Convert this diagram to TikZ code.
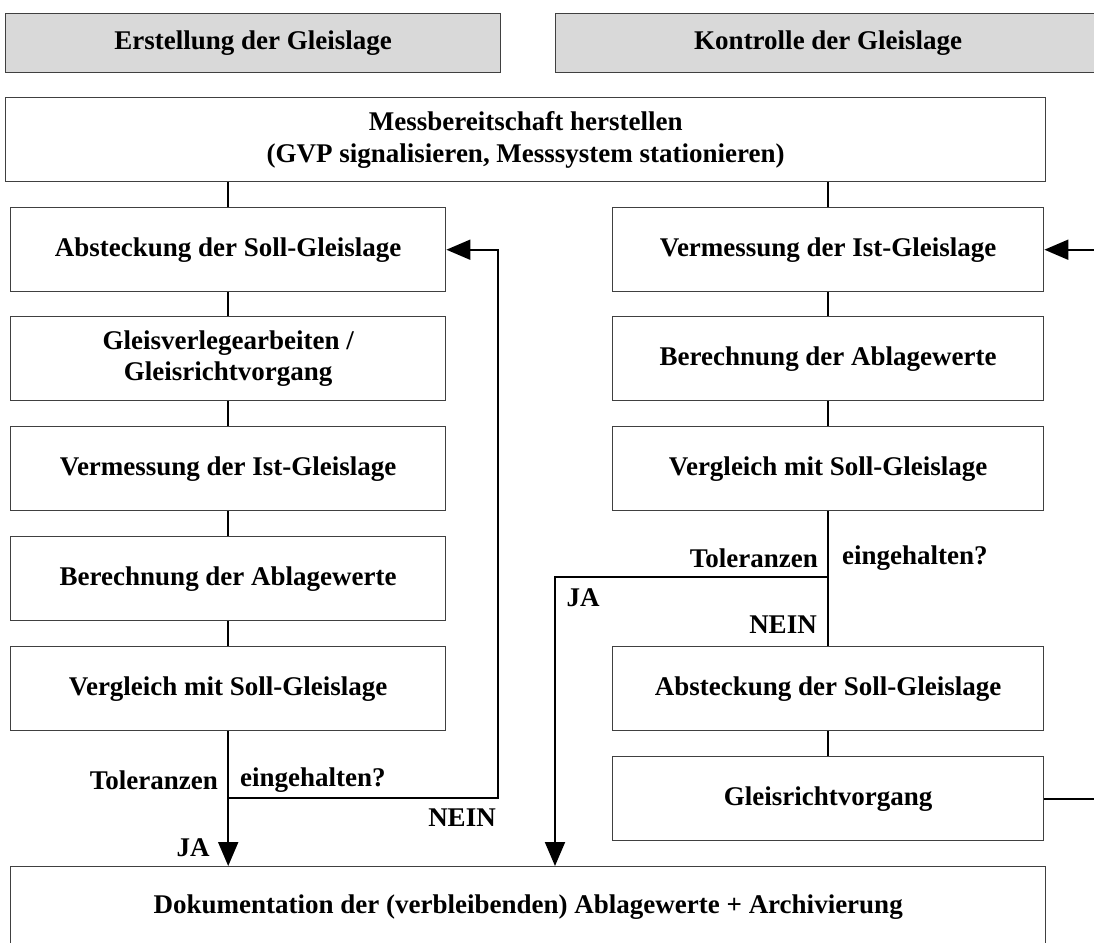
\documentclass[tikz,border=0pt]{standalone}
\usepackage{fontspec}
\setmainfont{Liberation Serif}
\usetikzlibrary{arrows.meta}
\begin{document}
\begin{tikzpicture}[x=1pt,y=-1pt,
  txt/.style={font=\fontsize{27}{31}\selectfont\bfseries},
  box/.style={txt,draw=black!75,line width=1.4pt,fill=white,align=center,inner sep=0pt,anchor=north west,minimum height=84pt},
  head/.style={box,fill=black!15,minimum height=59pt},
  conn/.style={draw=black,line width=2pt},
  arr/.style={conn,-{Triangle[length=24pt,width=20pt]}},
  lbl/.style={txt,inner sep=0pt}]
\useasboundingbox (0,0) rectangle (1094,942);
\clip (0,0) rectangle (1094,942);
% headers
\node[head,minimum width=495pt] (h1) at (5,13) {Erstellung der Gleislage};
\node[head,minimum width=545pt] (h2) at (555,13) {Kontrolle der Gleislage};
% top box
\node[box,minimum width=1040pt,font=\fontsize{27}{32}\selectfont\bfseries] (mess) at (5,97) {Messbereitschaft herstellen\\(GVP signalisieren, Messsystem stationieren)};
% left column
\node[box,minimum width=435pt] (l1) at (10,207) {Absteckung der Soll-Gleislage};
\node[box,minimum width=435pt] (l2) at (10,316) {Gleisverlegearbeiten /\\Gleisrichtvorgang};
\node[box,minimum width=435pt] (l3) at (10,426) {Vermessung der Ist-Gleislage};
\node[box,minimum width=435pt] (l4) at (10,536) {Berechnung der Ablagewerte};
\node[box,minimum width=435pt] (l5) at (10,646) {Vergleich mit Soll-Gleislage};
% right column
\node[box,minimum width=431pt] (r1) at (612,207) {Vermessung der Ist-Gleislage};
\node[box,minimum width=431pt] (r2) at (612,316) {Berechnung der Ablagewerte};
\node[box,minimum width=431pt] (r3) at (612,426) {Vergleich mit Soll-Gleislage};
\node[box,minimum width=431pt] (r4) at (612,646) {Absteckung der Soll-Gleislage};
\node[box,minimum width=431pt] (r5) at (612,756) {Gleisrichtvorgang};
% bottom
\node[box,minimum width=1035pt,minimum height=80pt] (doc) at (10,866) {Dokumentation der (verbleibenden) Ablagewerte + Archivierung};
% connectors left
\draw[conn] (l1.north |- mess.south) -- (l1.north);
\draw[conn] (l1.south) -- (l2.north);
\draw[conn] (l2.south) -- (l3.north);
\draw[conn] (l3.south) -- (l4.north);
\draw[conn] (l4.south) -- (l5.north);
\draw[arr] (l5.south) -- (l5.south |- doc.north);
\coordinate (ln) at (498,798);
\draw[arr] (l5.south |- ln) -- (ln) |- (l1.east);
% connectors right
\draw[conn] (r1.north |- mess.south) -- (r1.north);
\draw[conn] (r1.south) -- (r2.north);
\draw[conn] (r2.south) -- (r3.north);
\draw[conn] (r3.south) -- (r4.north);
\draw[conn] (r4.south) -- (r5.north);
\coordinate (rj) at (555,577);
\draw[arr] (r3.south |- rj) -- (rj) -- (rj |- doc.north);
\coordinate (rx) at (1140,798);
\draw[arr] (r5.east) -- (r5.east -| rx) |- (r1.east);
% labels
\node[lbl,anchor=east] (tl) at (218,780) {Toleranzen};
\node[lbl,anchor=west] (el) at (240,780) {eingehalten?};
\node[lbl] (nl) at (462,818) {NEIN};
\node[lbl] (jl) at (193,848) {JA};
\node[lbl,anchor=east] (tr) at (818,558) {Toleranzen};
\node[lbl,anchor=west] (er) at (842,558) {eingehalten?};
\node[lbl] (jr) at (583,598) {JA};
\node[lbl] (nr) at (783,625) {NEIN};
\end{tikzpicture}
\end{document}
